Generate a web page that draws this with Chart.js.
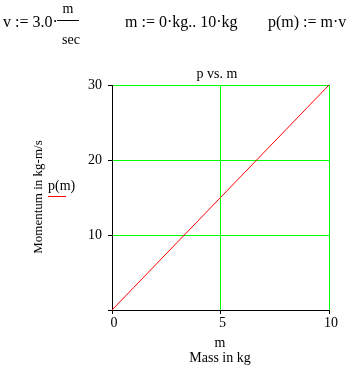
<!DOCTYPE html>
<html>
<head>
<meta charset="utf-8">
<script src="https://cdn.jsdelivr.net/npm/chart.js@4.4.1/dist/chart.umd.min.js"></script>
<style>
    body { margin: 0; background: #fff; }
    #wrap { width: 353px; height: 367px; }
</style>
</head>
<body>
<div id="wrap"><canvas id="momentumChart" width="353" height="367"></canvas></div>
<script>
// Data: p(m) = m*v with v = 3.0 m/s
const masses = [0, 1, 2, 3, 4, 5, 6, 7, 8, 9, 10];
const momentum = [0, 3, 6, 9, 12, 15, 18, 21, 24, 27, 30];
const xTickValues = [0, 5, 10];
const yTickValues = [0, 10, 20, 30];

const serif = '"Liberation Serif", "Times New Roman", serif';
const gridGreen = '#00ff00';

// Formula line, title, axis titles and legend drawn as text on the canvas
const textPlugin = {
    id: 'mathcadText',
    afterDraw(chart) {
        const c = chart.ctx;
        c.save();
        c.fillStyle = '#000';
        c.textBaseline = 'alphabetic';

        // formula row
        c.font = '16px ' + serif;
        c.textAlign = 'left';
        c.fillText('v := 3.0\u00b7', 3, 27);
        c.font = '14px ' + serif;
        c.textAlign = 'center';
        c.fillText('m', 68, 13);
        c.fillText('sec', 71, 44);
        c.fillRect(57, 20, 22, 1);
        c.font = '16px ' + serif;
        c.textAlign = 'left';
        c.fillText('m := 0\u00b7kg.. 10\u00b7kg', 125, 27);
        c.fillText('p(m) := m\u00b7v', 268, 27);

        // title
        c.font = '14px ' + serif;
        c.textAlign = 'center';
        c.fillText('p vs. m', 217, 78);

        // x axis title
        c.fillText('m', 220, 347);
        c.fillText('Mass in kg', 220, 362);

        // y axis title, rotated
        c.save();
        c.font = '13px ' + serif;
        c.translate(42, 197);
        c.rotate(-Math.PI / 2);
        c.fillText('Momentum in kg-m/s', 0, 0);
        c.restore();

        // legend
        c.textAlign = 'left';
        c.fillText('p(m)', 48, 190);
        c.fillStyle = '#ff0000';
        c.fillRect(48, 196, 18, 1);
        c.restore();
    }
};

new Chart(document.getElementById('momentumChart'), {
    type: 'line',
    data: {
        datasets: [{
            label: 'p(m)',
            data: masses.map((m, i) => ({ x: m, y: momentum[i] })),
            borderColor: '#ff0000',
            borderWidth: 1,
            pointRadius: 0,
            tension: 0
        }]
    },
    options: {
        responsive: false,
        animation: false,
        layout: { padding: { top: 85, right: 24, left: 0, bottom: 0 } },
        plugins: {
            legend: { display: false },
            tooltip: { enabled: false }
        },
        scales: {
            x: {
                type: 'linear',
                min: 0,
                max: 10,
                afterBuildTicks(scale) {
                    scale.ticks = xTickValues.map(v => ({ value: v }));
                },
                afterFit(scale) { scale.height = 57; },
                grid: { color: gridGreen, tickColor: '#000', tickLength: 4, lineWidth: 1 },
                border: { color: '#000', width: 1 },
                ticks: {
                    color: '#000',
                    font: { family: serif, size: 14 },
                    padding: 1,
                    labelOffset: 2,
                    maxRotation: 0
                }
            },
            y: {
                min: 0,
                max: 30,
                afterBuildTicks(scale) {
                    scale.ticks = yTickValues.map(v => ({ value: v }));
                },
                afterFit(scale) { scale.width = 112; },
                grid: { color: gridGreen, tickColor: '#000', tickLength: 4, lineWidth: 1 },
                border: { color: '#000', width: 1 },
                ticks: {
                    color: '#000',
                    font: { family: serif, size: 14 },
                    padding: 6,
                    callback: v => (v === 0 ? '' : v)
                }
            }
        }
    },
    plugins: [textPlugin]
});
</script>
</body>
</html>
